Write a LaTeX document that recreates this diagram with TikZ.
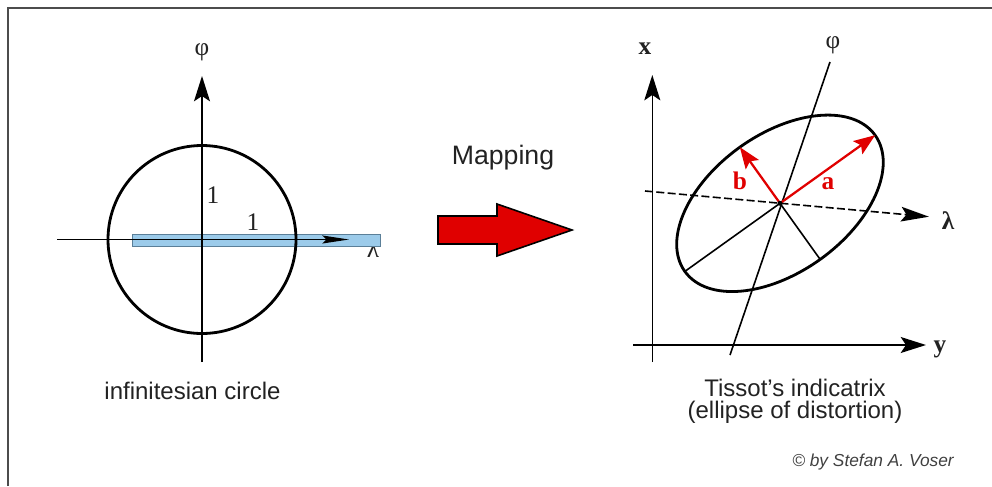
\documentclass[tikz,border=0pt]{standalone}
\usepackage{fontspec}
\setmainfont{Liberation Sans}
\newfontfamily\grkfont{Liberation Serif}
\usetikzlibrary{arrows.meta,calc}
\definecolor{barblue}{HTML}{9CCBEA}
\definecolor{bardraw}{HTML}{5B7F98}
\definecolor{mapred}{HTML}{E00000}
\definecolor{inkgray}{HTML}{222222}
\tikzset{
  frame/.style={line width=1.5pt,draw=black!70},
  axis/.style={line width=1.2pt,-{Stealth[length=19pt,width=12pt,inset=4pt]}},
  thinaxis/.style={line width=1.2pt},
  ring/.style={line width=2.1pt},
  bar/.style={fill=barblue,draw=bardraw,line width=1pt},
  dashaxis/.style={line width=1.2pt,dash pattern=on 6pt off 2.5pt,-{Stealth[length=21pt,width=11pt,inset=4pt]}},
  redarr/.style={mapred,line width=1.7pt,-{Stealth[length=16pt,width=12pt,inset=3pt]}},
  maparrow/.style={fill=mapred,draw=black,line width=1.2pt,line join=miter},
  grk/.style={font=\grkfont\fontsize{19}{22}\selectfont,inner sep=0pt},
  grkb/.style={font=\grkfont\bfseries\fontsize{19}{22}\selectfont,inner sep=0pt},
  captxt/.style={font=\fontsize{18}{16.5}\selectfont,align=center,inner sep=0pt}
}

\begin{document}
\begin{tikzpicture}[x=0.75pt,y=-0.75pt,every node/.style={text=inkgray}]
  \useasboundingbox (0,0) rectangle (992,486);
  % Frame
  \draw[frame] (8,486) -- (8,8) -- (992,8);

  % Left: infinitesian circle
  \coordinate (O) at (202,239.5);
  \coordinate (phiTop) at (202,76);
  \coordinate (phiBot) at (202,362);
  \coordinate (lamL) at (57,239.5);
  \coordinate (lamR) at (349,239.5);
  \node[grk] (lamlbl) at (373,249) {λ};
  \draw[bar] (132.7,234.5) rectangle (380.7,246.5);
  \draw[thinaxis,-{Stealth[length=20pt,width=6pt,inset=3pt]}] (lamL) -- (lamR);
  \draw[axis] (phiBot) -- (phiTop);
  \draw[ring] (O) circle [radius=94];
  \node[grk] (philbl) at (202,52) {φ};
  \node[grk] (r1) at (213,195) {1};
  \node[grk] (r2) at (253,222) {1};
  \node[captxt] (circlbl) at (192.5,391) {infinitesian circle};

  % Mapping arrow
  \node[font=\fontsize{20}{24}\selectfont,inner sep=0pt] (maplbl) at (503,158) {Mapping};
  \draw[maparrow] (438,216) -- (497,216) -- (497,204) -- (572,230)
    -- (497,256) -- (497,244) -- (438,244) -- cycle;

  % Right: Tissot's indicatrix
  \coordinate (C) at (780,203.3);
  \coordinate (xTop) at (652.3,75);
  \coordinate (xBot) at (652.3,362);
  \coordinate (yL) at (633,345);
  \coordinate (yR) at (926,345);
  \coordinate (phiS) at (730,355);
  \coordinate (phiN) at (830,62);
  \coordinate (lamW) at (645,191);
  \coordinate (lamE) at (929,216.7);
  \coordinate (atip) at ($(C)+(-35.6:117)$);
  \coordinate (btip) at ($(C)+(-125.6:69)$);
  \coordinate (aend) at ($(C)+(144.4:117)$);
  \coordinate (bend) at ($(C)+(54.4:69)$);

  \draw[axis] (xBot) -- (xTop);
  \draw[axis] (yL) -- (yR);
  \draw[ring,rotate around={35.6:(C)}] (C) ellipse [x radius=117,y radius=69];
  \draw[thinaxis] (phiS) -- (phiN);
  \draw[dashaxis] (lamW) -- (lamE);
  \draw[thinaxis] (C) -- (aend);
  \draw[thinaxis] (C) -- (bend);
  \draw[redarr] (C) -- (atip);
  \draw[redarr] (C) -- (btip);
  \fill (C) circle [radius=2.5];

  \node[grkb] (xlbl) at (645,49) {x};
  \node[grkb] (ylbl) at (940,349) {y};
  \node[grk] (phi2lbl) at (833,45) {φ};
  \node[grkb] (lam2lbl) at (948,221) {λ};
  \node[grkb,text=mapred] (albl) at (828,184) {a};
  \node[grkb,text=mapred] (blbl) at (740,181) {b};

  \node[captxt] (tislbl) at (795,401) {Tissot’s indicatrix\\(ellipse of distortion)};
  \node[font=\itshape\fontsize{13}{16}\selectfont,text=black!75,inner sep=0pt] (copy) at (873,462) {© by Stefan A. Voser};
\end{tikzpicture}
\end{document}
